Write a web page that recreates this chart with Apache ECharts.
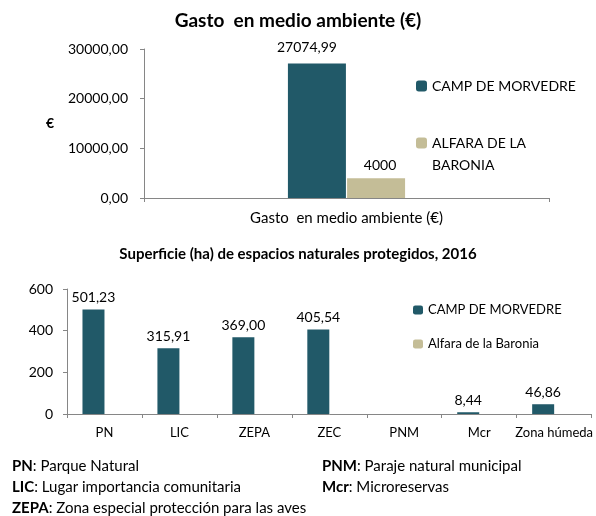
<!DOCTYPE html>
<html>
<head>
<meta charset="utf-8">
<script src="https://cdn.jsdelivr.net/npm/echarts@6/dist/echarts.min.js"></script>
<style>
  html, body { margin: 0; padding: 0; background: #fff; }
  #main { width: 596px; height: 516px; }
</style>
</head>
<body>
<div id="main"></div>
<script>
  // gasto en medio ambiente
  const gastoCategorias = ['Gasto  en medio ambiente (€)'];
  const gastoCamp = [27074.99];
  const gastoAlfara = [4000];

  // superficie espacios naturales protegidos 2016
  const espaciosCategorias = ['PN', 'LIC', 'ZEPA', 'ZEC', 'PNM', 'Mcr', 'Zona húmeda'];
  const espaciosCamp = [501.23, 315.91, 369.00, 405.54, null, 8.44, 46.86];
  const espaciosAlfara = [null, null, null, null, null, null, null];

  // notas al pie
  const notasCol1 = [['PN', 'Parque Natural'], ['LIC', 'Lugar importancia comunitaria'], ['ZEPA', 'Zona especial protección para las aves']];
  const notasCol2 = [['PNM', 'Paraje natural municipal'], ['Mcr', 'Microreservas']];

  const azul = '#215968';
  const beige = '#c4bd97';
  const fuente = 'Lato';
  const coma = v => v.toFixed(2).replace('.', ',');

  const notaTexto = (item, x, y) => ({
    type: 'text',
    left: x,
    top: y,
    style: {
      text: '{b|' + item[0] + '}: ' + item[1],
      font: '15px ' + fuente,
      fill: '#000',
      rich: { b: { fontWeight: 'bold', fontSize: 15, fontFamily: fuente } }
    }
  });
  const graficos = [];
  notasCol1.forEach((n, i) => graficos.push(notaTexto(n, 12, 459 + i * 21)));
  notasCol2.forEach((n, i) => graficos.push(notaTexto(n, 322, 459 + i * 21)));

  const ejeGris = { lineStyle: { color: '#868686' } };

  const option = {
    animation: false,
    textStyle: { fontFamily: fuente, color: '#000' },
    title: [
      { text: 'Gasto  en medio ambiente (€)', left: 'center', top: 11, padding: 0,
        textStyle: { fontFamily: fuente, fontSize: 19, fontWeight: 'bold', color: '#000' } },
      { text: 'Superficie (ha) de espacios naturales protegidos, 2016', left: 'center', top: 247, padding: 0,
        textStyle: { fontFamily: fuente, fontSize: 15, fontWeight: 'bold', color: '#000' } }
    ],
    legend: [
      { data: ['CAMP DE MORVEDRE'], orient: 'vertical', left: 416, top: 78, padding: 0,
        itemWidth: 11, itemHeight: 11, selectedMode: false,
        textStyle: { fontFamily: fuente, fontSize: 14, color: '#000', lineHeight: 16 } },
      { data: ['ALFARA DE LA BARONIA'],
        // linea vacia arriba para que el cuadro quede junto a la primera linea
        formatter: () => ' \nALFARA DE LA\nBARONIA',
        orient: 'vertical', left: 416, top: 110, padding: 0,
        itemWidth: 11, itemHeight: 11, selectedMode: false,
        textStyle: { fontFamily: fuente, fontSize: 14, color: '#000', lineHeight: 22 } },
      { data: ['CAMP DE MORVEDRE '], orient: 'vertical', left: 413, top: 302, padding: 0,
        itemWidth: 10, itemHeight: 9, selectedMode: false,
        formatter: n => n.trim(),
        textStyle: { fontFamily: fuente, fontSize: 13, color: '#000', lineHeight: 16 } },
      { data: ['Alfara de la Baronia'], orient: 'vertical', left: 413, top: 336, padding: 0,
        itemWidth: 10, itemHeight: 9, selectedMode: false,
        textStyle: { fontFamily: fuente, fontSize: 13, color: '#000', lineHeight: 16 } }
    ],
    grid: [
      { left: 144, right: 47, top: 49, height: 149 },
      { left: 67, right: 4, top: 289, height: 125 }
    ],
    xAxis: [
      { type: 'category', gridIndex: 0, data: gastoCategorias,
        axisLine: ejeGris, axisTick: { show: true, length: 4, lineStyle: { color: '#868686' } },
        axisLabel: { fontFamily: fuente, fontSize: 15, color: '#000', margin: 13 } },
      { type: 'category', gridIndex: 1, data: espaciosCategorias,
        axisLine: ejeGris, axisTick: { show: true, length: 4, lineStyle: { color: '#868686' } },
        axisLabel: { fontFamily: fuente, fontSize: 13, color: '#000', margin: 12, interval: 0 } }
    ],
    yAxis: [
      { type: 'value', gridIndex: 0, min: 0, max: 30000, interval: 10000,
        name: '€', nameLocation: 'middle', nameGap: 90, nameRotate: 0,
        nameTextStyle: { fontFamily: fuente, fontSize: 14, fontWeight: 'bold', color: '#000' },
        axisLine: { show: true, lineStyle: { color: '#868686' } },
        axisTick: { show: true, length: 4, lineStyle: { color: '#868686' } },
        splitLine: { show: false },
        axisLabel: { fontFamily: fuente, fontSize: 14, color: '#000', margin: 16, formatter: v => coma(v) } },
      { type: 'value', gridIndex: 1, min: 0, max: 600, interval: 200,
        axisLine: { show: true, lineStyle: { color: '#868686' } },
        axisTick: { show: true, length: 4, lineStyle: { color: '#868686' } },
        splitLine: { show: false },
        axisLabel: { fontFamily: fuente, fontSize: 14, color: '#000', margin: 14 } }
    ],
    series: [
      { name: 'CAMP DE MORVEDRE', type: 'bar', xAxisIndex: 0, yAxisIndex: 0,
        data: gastoCamp, barWidth: 58, barGap: '2%', itemStyle: { color: azul },
        label: { show: true, position: 'top', distance: 9, offset: [-10, 0],
          fontFamily: fuente, fontSize: 14, color: '#000', formatter: p => coma(p.value) } },
      { name: 'ALFARA DE LA BARONIA', type: 'bar', xAxisIndex: 0, yAxisIndex: 0,
        data: gastoAlfara, barWidth: 58, itemStyle: { color: beige },
        label: { show: true, position: 'top', distance: 6, offset: [4, 0],
          fontFamily: fuente, fontSize: 14, color: '#000', formatter: p => String(p.value) } },
      { name: 'CAMP DE MORVEDRE ', type: 'bar', xAxisIndex: 1, yAxisIndex: 1,
        data: espaciosCamp, barWidth: 22, barGap: '0%', itemStyle: { color: azul },
        label: { show: true, position: 'top', distance: 5,
          fontFamily: fuente, fontSize: 14, color: '#000',
          formatter: p => p.value == null ? '' : coma(p.value) } },
      { name: 'Alfara de la Baronia', type: 'bar', xAxisIndex: 1, yAxisIndex: 1,
        data: espaciosAlfara, barWidth: 22, itemStyle: { color: beige } }
    ],
    graphic: graficos
  };

  const chart = echarts.init(document.getElementById('main'), null, { renderer: 'canvas' });
  chart.setOption(option);
</script>
</body>
</html>
